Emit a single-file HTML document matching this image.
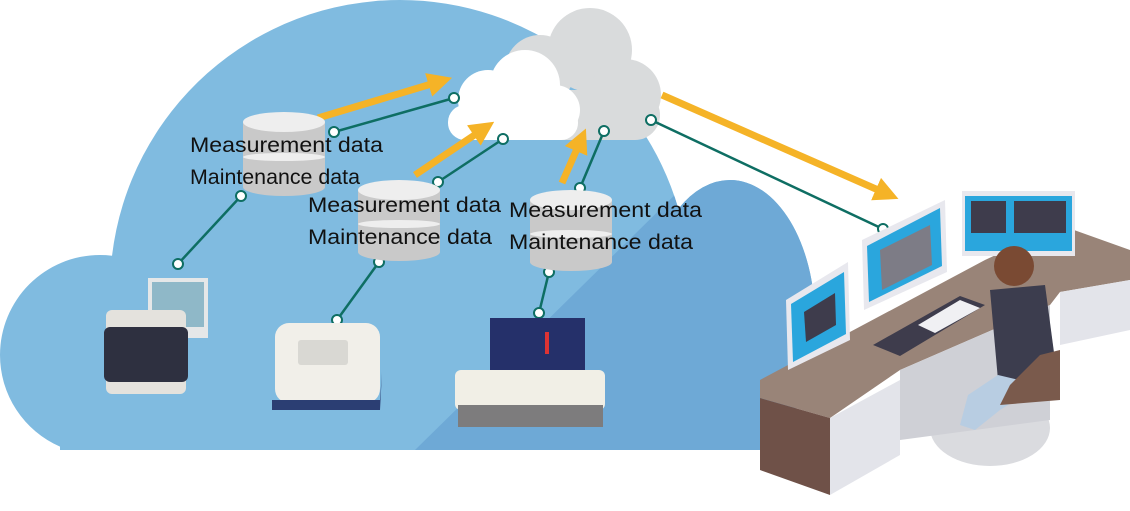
<!DOCTYPE html>
<html><head><meta charset="utf-8"><style>
html,body{margin:0;padding:0;background:#fff;width:1130px;height:511px;overflow:hidden}
svg text{font-family:"Liberation Sans",sans-serif;font-size:21px;fill:#111}
</style></head><body>
<svg width="1130" height="511" viewBox="0 0 1130 511" xmlns="http://www.w3.org/2000/svg">
<defs>
<clipPath id="cl">
<circle cx="400" cy="290" r="290"/>
<circle cx="100" cy="355" r="100"/>
<ellipse cx="730" cy="320" rx="85" ry="140"/>
<rect x="60" y="300" width="700" height="150"/>
</clipPath>
<marker id="ah" viewBox="0 0 10 10" refX="4" refY="5" markerWidth="3.5" markerHeight="3.5" orient="auto"><path d="M0,0 L10,5 L0,10 z" fill="#f5b327"/></marker>
</defs>
<g clip-path="url(#cl)">
<rect x="0" y="0" width="830" height="450" fill="#80bbe0"/>
<polygon points="415,450 690,180 830,180 830,450" fill="#6ea9d6"/>
</g>
<g fill="#d9dbdc">
<circle cx="590" cy="50" r="42"/><circle cx="625" cy="95" r="36"/><circle cx="540" cy="70" r="35"/>
<rect x="470" y="90" width="190" height="50" rx="25"/>
</g>
<g fill="#fff">
<circle cx="525" cy="85" r="35"/><circle cx="488" cy="100" r="30"/><circle cx="555" cy="110" r="25"/>
<rect x="448" y="105" width="130" height="35" rx="17"/>
</g>
<g stroke="#f5b327" stroke-width="7" fill="none" marker-end="url(#ah)">
<line x1="318" y1="118" x2="438" y2="82"/>
<line x1="415" y1="175" x2="482" y2="130"/>
<line x1="562" y1="183" x2="580" y2="142"/>
<line x1="662" y1="95" x2="885" y2="193"/>
</g>
<g stroke="#0e6e63" stroke-width="2.5" fill="none">
<line x1="334" y1="132" x2="454" y2="98"/>
<line x1="438" y1="182" x2="503" y2="139"/>
<line x1="580" y1="188" x2="604" y2="131"/>
<line x1="651" y1="120" x2="883" y2="229"/>
<line x1="241" y1="196" x2="178" y2="264"/>
<line x1="379" y1="262" x2="337" y2="320"/>
<line x1="549" y1="272" x2="539" y2="313"/>
</g>
<g fill="#fff" stroke="#0e6e63" stroke-width="2">
<circle cx="334" cy="132" r="5"/><circle cx="454" cy="98" r="5"/><circle cx="438" cy="182" r="5"/><circle cx="503" cy="139" r="5"/>
<circle cx="580" cy="188" r="5"/><circle cx="604" cy="131" r="5"/><circle cx="651" cy="120" r="5"/><circle cx="883" cy="229" r="5"/>
<circle cx="241" cy="196" r="5"/><circle cx="178" cy="264" r="5"/><circle cx="379" cy="262" r="5"/><circle cx="337" cy="320" r="5"/>
<circle cx="549" cy="272" r="5"/><circle cx="539" cy="313" r="5"/>
</g>
<g>
<rect x="243" y="122" width="82" height="65" fill="#c9c9c9"/><ellipse cx="284" cy="187" rx="41" ry="9" fill="#c9c9c9"/>
<ellipse cx="284" cy="122" rx="41" ry="10" fill="#eee"/><ellipse cx="284" cy="157" rx="41" ry="4" fill="#eee"/>
<rect x="358" y="190" width="82" height="62" fill="#c9c9c9"/><ellipse cx="399" cy="252" rx="41" ry="9" fill="#c9c9c9"/>
<ellipse cx="399" cy="190" rx="41" ry="10" fill="#eee"/><ellipse cx="399" cy="224" rx="41" ry="4" fill="#eee"/>
<rect x="530" y="200" width="82" height="62" fill="#c9c9c9"/><ellipse cx="571" cy="262" rx="41" ry="9" fill="#c9c9c9"/>
<ellipse cx="571" cy="200" rx="41" ry="10" fill="#eee"/><ellipse cx="571" cy="234" rx="41" ry="4" fill="#eee"/>
</g>
<text x="190" y="152" textLength="193" lengthAdjust="spacingAndGlyphs">Measurement data</text>
<text x="190" y="184" textLength="170" lengthAdjust="spacingAndGlyphs">Maintenance data</text>
<text x="308" y="212" textLength="193" lengthAdjust="spacingAndGlyphs">Measurement data</text>
<text x="308" y="244" textLength="184" lengthAdjust="spacingAndGlyphs">Maintenance data</text>
<text x="509" y="217" textLength="193" lengthAdjust="spacingAndGlyphs">Measurement data</text>
<text x="509" y="249" textLength="184" lengthAdjust="spacingAndGlyphs">Maintenance data</text>
<rect x="148" y="278" width="60" height="60" fill="#e5e7e8"/>
<rect x="152" y="282" width="52" height="45" fill="#8fb8c8"/>
<rect x="106" y="310" width="80" height="84" rx="6" fill="#e4e2dd"/>
<rect x="104" y="327" width="84" height="55" rx="6" fill="#2e3040"/>
<rect x="275" y="323" width="105" height="80" rx="14" fill="#f1efe9"/>
<path d="M272,400 L380,400 L382,372 L380,410 L272,410Z" fill="#2b3e73"/>
<rect x="298" y="340" width="50" height="25" rx="3" fill="#d9d8d3"/>
<rect x="490" y="318" width="95" height="58" fill="#25306a"/>
<rect x="455" y="370" width="150" height="40" rx="6" fill="#f1efe6"/>
<rect x="458" y="405" width="145" height="22" fill="#7d7c7d"/>
<rect x="545" y="332" width="4" height="22" fill="#d33"/>
<ellipse cx="990" cy="428" rx="60" ry="38" fill="#dadbdf"/>
<polygon points="760,380 985,260 1060,225 1130,250 1130,280 1060,292 1050,305 900,370 830,418 760,398" fill="#998478"/>
<polygon points="760,398 830,418 830,495 760,470" fill="#6f5148"/>
<polygon points="830,418 900,380 900,455 830,495" fill="#e3e4ea"/>
<polygon points="1060,292 1130,280 1130,330 1060,345" fill="#e3e4ea"/>
<polygon points="900,370 1050,305 1050,420 900,440" fill="#cfd0d6"/>
<polygon points="786,300 848,262 850,340 788,370" fill="#e8e8ee"/>
<polygon points="791,304 844,272 846,334 793,362" fill="#2aa6dd"/>
<polygon points="804,312 835,293 836,325 806,342" fill="#3e3c4c"/>
<polygon points="862,240 945,200 947,272 864,310" fill="#e8e8ee"/>
<polygon points="867,246 940,208 942,266 869,302" fill="#2aa6dd"/>
<polygon points="880,250 930,225 932,265 882,290" fill="#7d7c86"/>
<rect x="962" y="191" width="113" height="65" fill="#e8e8ee"/>
<rect x="965" y="196" width="107" height="55" fill="#2aa6dd"/>
<rect x="971" y="201" width="35" height="32" fill="#3e3c4c"/>
<rect x="1014" y="201" width="52" height="32" fill="#3e3c4c"/>
<polygon points="873,345 960,296 985,305 900,356" fill="#3e3c4c"/>
<polygon points="918,325 960,300 980,308 935,333" fill="#f0f0f3"/>
<circle cx="1014" cy="266" r="20" fill="#7a4a33"/>
<path d="M990,290 L1045,285 L1055,360 L1045,385 L998,380 Z" fill="#3c3d4e"/>
<path d="M998,375 L1040,385 L1000,410 L975,430 L960,425 L968,395 Z" fill="#b8cde2"/>
<path d="M1040,355 L1060,350 L1060,400 L1000,405 L1010,385Z" fill="#7a5a4c"/>
</svg>
</body></html>
